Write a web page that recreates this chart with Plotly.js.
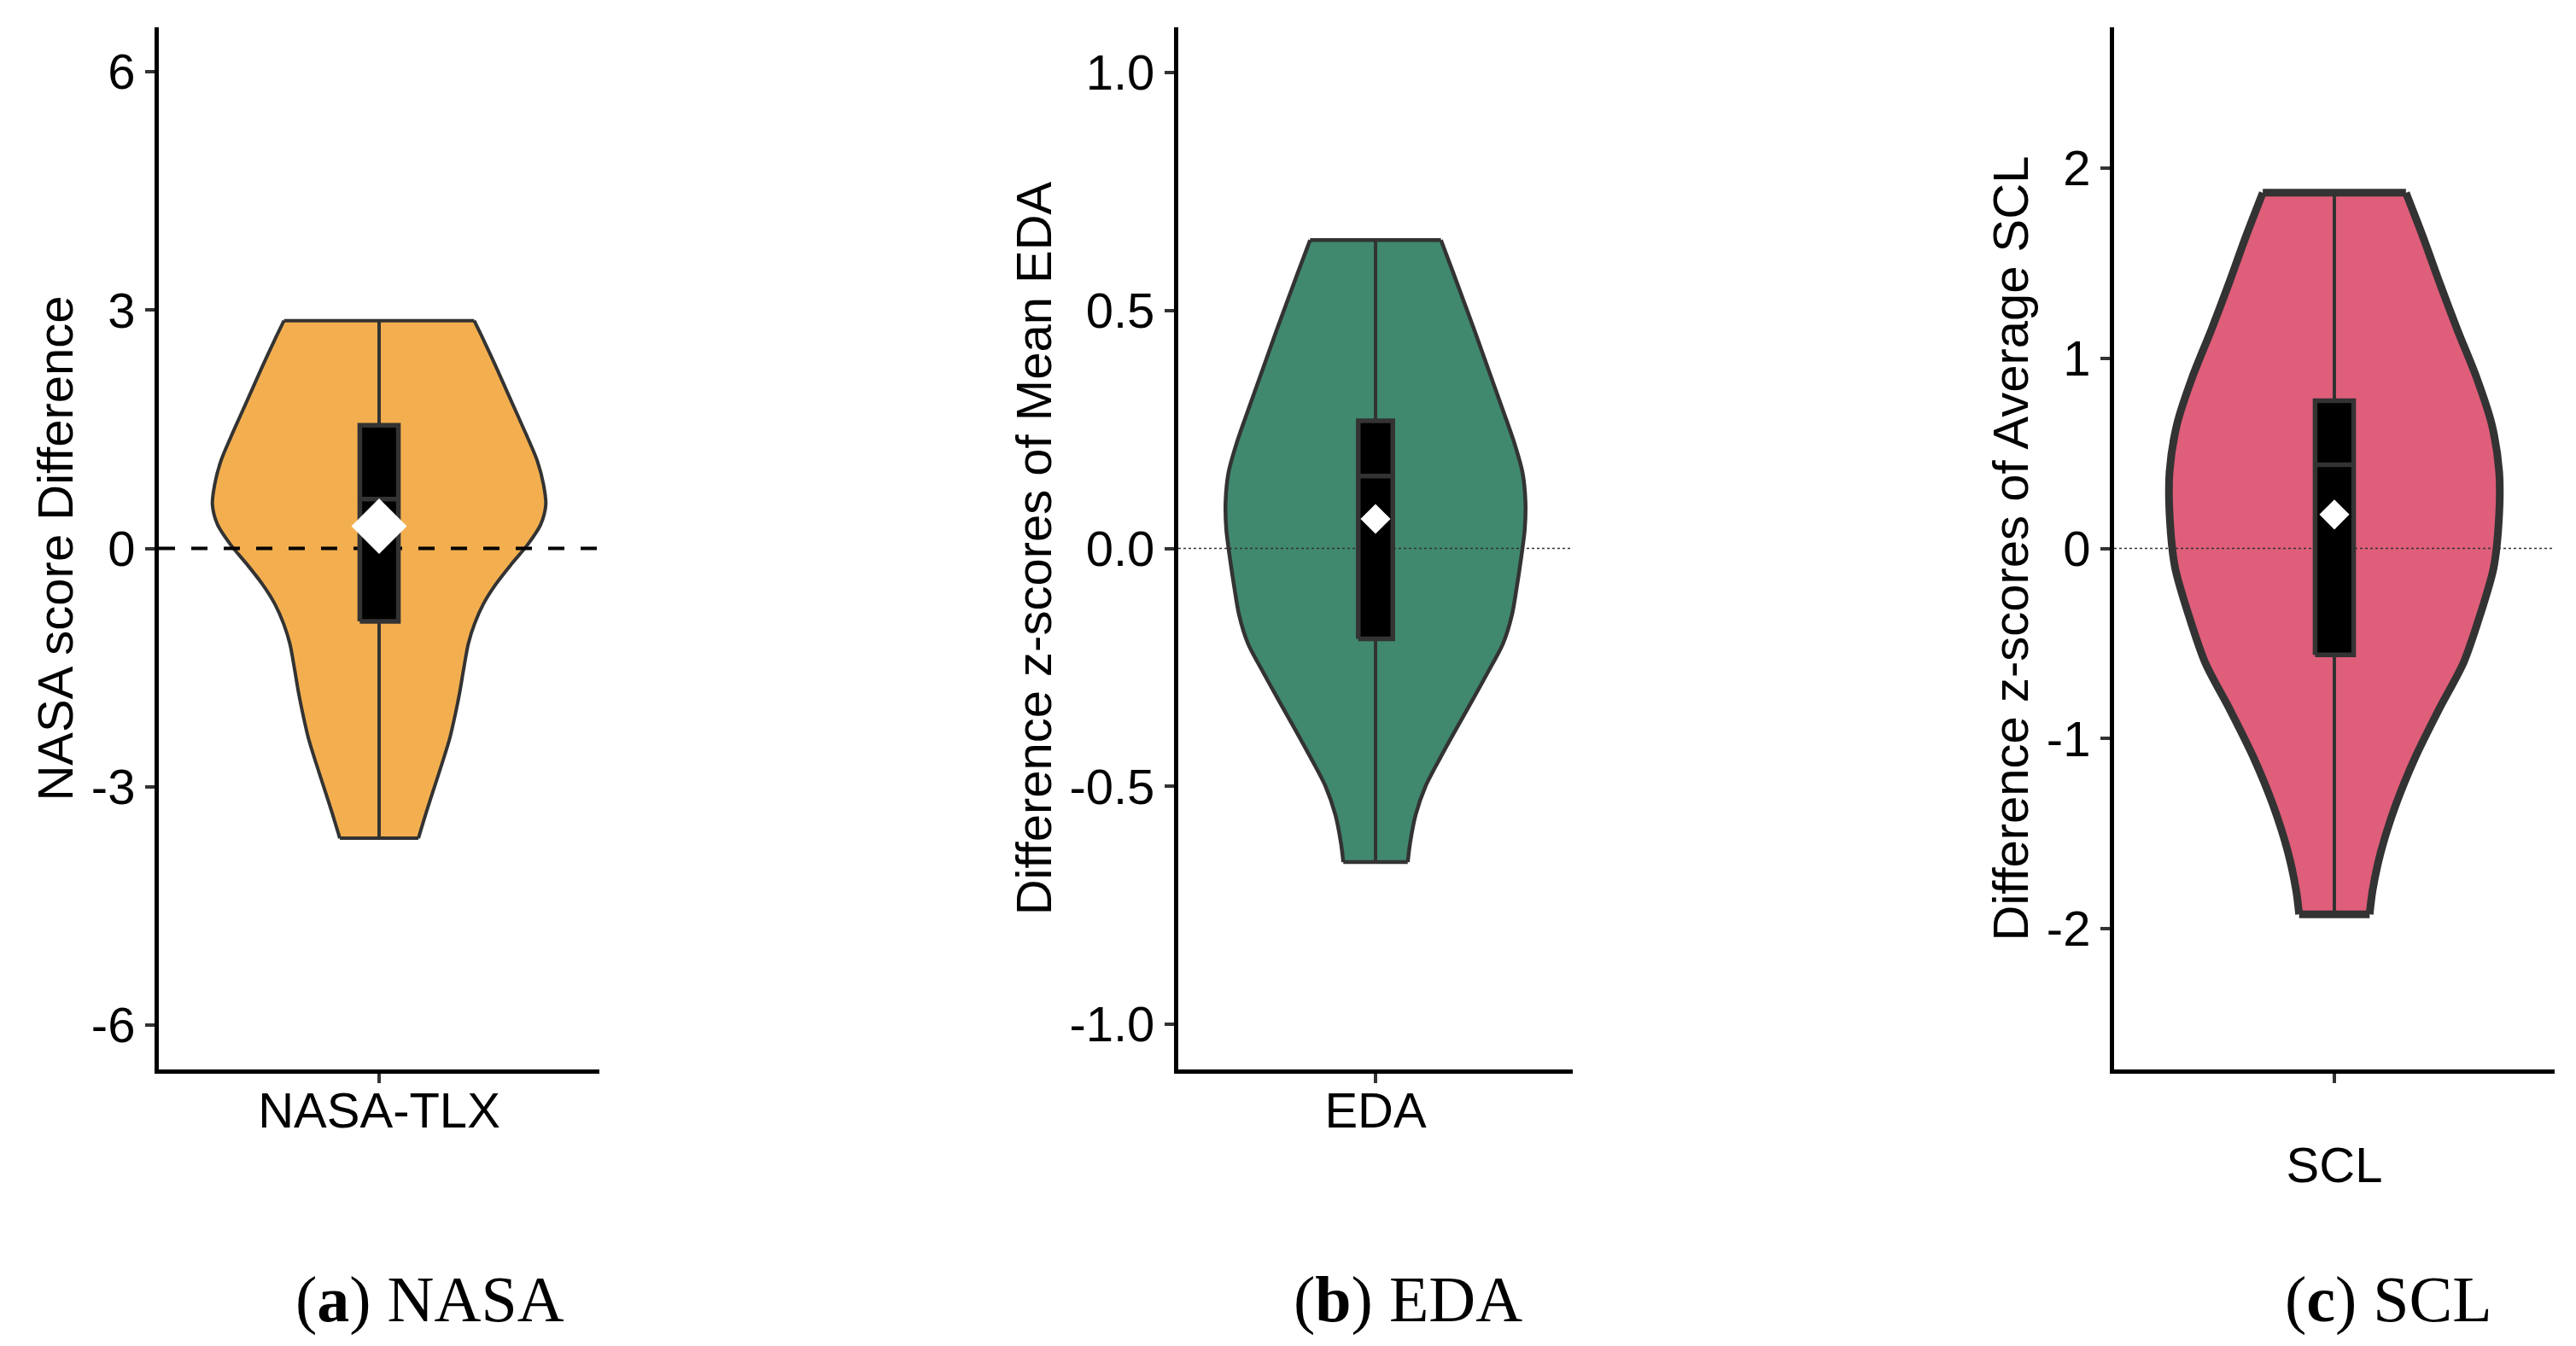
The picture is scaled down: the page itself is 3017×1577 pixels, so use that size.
<!DOCTYPE html>
<html>
<head>
<meta charset="utf-8">
<script src="https://cdn.plot.ly/plotly-3.0.1.min.js"></script>
<style>
  html, body { margin: 0; padding: 0; background: #fff; }
  #chart { width: 3017px; height: 1577px; }
</style>
</head>
<body>
<div id="chart"></div>
<script>
// violin outlines: y value and half width (category units), top to bottom
const nasaY = [2.867, 2.6, 2.3, 2.0, 1.7, 1.4, 1.1, 0.8, 0.55, 0.3, 0.05, -0.2, -0.45, -0.7, -0.95, -1.2, -1.5, -1.8, -2.1, -2.4, -2.7, -3.0, -3.3, -3.649];
const nasaW = [0.259, 0.287, 0.317, 0.346, 0.375, 0.404, 0.431, 0.448, 0.454, 0.44, 0.405, 0.36, 0.318, 0.284, 0.26, 0.243, 0.231, 0.22, 0.207, 0.192, 0.172, 0.151, 0.13, 0.107];

const edaY = [0.648, 0.58, 0.52, 0.46, 0.40, 0.34, 0.28, 0.22, 0.16, 0.10, 0.04, -0.02, -0.08, -0.14, -0.20, -0.26, -0.32, -0.38, -0.44, -0.50, -0.56, -0.62, -0.659];
const edaW = [0.199, 0.236, 0.268, 0.30, 0.331, 0.362, 0.393, 0.423, 0.447, 0.456, 0.454, 0.443, 0.43, 0.415, 0.388, 0.342, 0.294, 0.245, 0.197, 0.152, 0.122, 0.105, 0.098];

const sclY = [1.87, 1.63, 1.40, 1.15, 0.90, 0.65, 0.40, 0.15, -0.10, -0.35, -0.60, -0.85, -1.10, -1.35, -1.60, -1.80, -1.924];
const sclW = [0.195, 0.243, 0.286, 0.335, 0.387, 0.429, 0.449, 0.448, 0.434, 0.397, 0.352, 0.284, 0.220, 0.167, 0.126, 0.104, 0.096];

// box summaries: [lower, q1, median, q3, upper], and mean
const nasaBox = [-3.649, -0.92, 0.62, 1.55, 2.867];
const edaBox = [-0.659, -0.19, 0.152, 0.268, 0.648];
const sclBox = [-1.924, -0.56, 0.44, 0.776, 1.87];
const nasaMean = 0.28;
const edaMean = 0.062;
const sclMean = 0.178;

const categories = ["NASA-TLX", "EDA", "SCL"];
const yTitles = ["NASA score Difference", "Difference z-scores of Mean EDA", "Difference z-scores of Average SCL"];
const captions = ["(<b>a</b>) NASA", "(<b>b</b>) EDA", "(<b>c</b>) SCL"];

const nasaTicks = [-6, -3, 0, 3, 6];
const nasaTickText = ["-6", "-3", "0", "3", "6"];
const edaTicks = [-1, -0.5, 0, 0.5, 1];
const edaTickText = ["-1.0", "-0.5", "0.0", "0.5", "1.0"];
const sclTicks = [-2, -1, 0, 1, 2];
const sclTickText = ["-2", "-1", "0", "1", "2"];

const zeroLine = 0;

const W = 3017, H = 1577;
const fills = ["#F3AF4F", "#40896E", "#DF5E7A"];
const outline = "#333333";
const sans = "Liberation Sans, Arial, sans-serif";
const boxHalf = 0.0525;

const panels = [
  {ys: nasaY, ws: nasaW, box: nasaBox, mean: nasaMean, range: [-6.56, 6.56], ticks: nasaTicks, tickText: nasaTickText,
   px: [186, 702], outlineW: 4, diamond: 50, ref: {color: "black", width: 4, dash: "19px,19px"}, labelPad: -18},
  {ys: edaY, ws: edaW, box: edaBox, mean: edaMean, range: [-1.095, 1.095], ticks: edaTicks, tickText: edaTickText,
   px: [1380, 1842], outlineW: 4.5, diamond: 27, ref: {color: "#333", width: 1.3, dash: "3px,3px"}, labelPad: -18},
  {ys: sclY, ws: sclW, box: sclBox, mean: sclMean, range: [-2.74, 2.74], ticks: sclTicks, tickText: sclTickText,
   px: [2476, 2992], outlineW: 9, diamond: 27, ref: {color: "#333", width: 1.3, dash: "3px,3px"}, labelPad: 46}
];

const yDomain = [1 - 1253 / H, 1 - 32 / H];
const traces = [];
const layout = {
  width: W, height: H, autosize: false,
  margin: {l: 0, r: 0, t: 0, b: 0},
  paper_bgcolor: "white", plot_bgcolor: "white",
  showlegend: false,
  annotations: []
};

panels.forEach((p, i) => {
  const xa = i === 0 ? "x" : "x" + (i + 1);
  const ya = i === 0 ? "y" : "y" + (i + 1);
  const xKey = i === 0 ? "xaxis" : "xaxis" + (i + 1);
  const yKey = i === 0 ? "yaxis" : "yaxis" + (i + 1);
  const n = p.ys.length;
  const right = p.ws.map(w => 1 + w);
  const left = p.ws.map(w => 1 - w);
  const on = {xaxis: xa, yaxis: ya, hoverinfo: "skip", type: "scatter"};

  // violin fill: right side top->bottom, left side bottom->top
  traces.push(Object.assign({}, on, {
    mode: "lines",
    x: right.concat(left.slice().reverse()),
    y: p.ys.concat(p.ys.slice().reverse()),
    fill: "toself", fillcolor: fills[i],
    line: {width: 0, color: fills[i]}
  }));
  // curved sides
  traces.push(Object.assign({}, on, {
    mode: "lines",
    x: right.concat([null], left), y: p.ys.concat([null], p.ys),
    line: {color: outline, width: p.outlineW, shape: "spline", smoothing: 0.8},
    connectgaps: false
  }));
  // flat top and bottom
  traces.push(Object.assign({}, on, {
    mode: "lines",
    x: [left[0], right[0], null, left[n - 1], right[n - 1]],
    y: [p.ys[0], p.ys[0], null, p.ys[n - 1], p.ys[n - 1]],
    line: {color: outline, width: p.outlineW},
    connectgaps: false
  }));

  // reference line at zero
  traces.push(Object.assign({}, on, {
    mode: "lines", x: [0.4, 1.6], y: [zeroLine, zeroLine], line: p.ref
  }));

  // whisker from min to max
  traces.push(Object.assign({}, on, {
    mode: "lines", x: [1, 1], y: [p.box[0], p.box[4]],
    line: {color: outline, width: 4}
  }));
  // box q1..q3
  traces.push(Object.assign({}, on, {
    mode: "lines",
    x: [1 - boxHalf, 1 + boxHalf, 1 + boxHalf, 1 - boxHalf, 1 - boxHalf],
    y: [p.box[1], p.box[1], p.box[3], p.box[3], p.box[1]],
    fill: "toself", fillcolor: "black",
    line: {color: outline, width: 5.5}
  }));
  // median
  traces.push(Object.assign({}, on, {
    mode: "lines", x: [1 - boxHalf, 1 + boxHalf], y: [p.box[2], p.box[2]],
    line: {color: outline, width: 5.5}
  }));

  // mean marker
  traces.push(Object.assign({}, on, {
    mode: "markers", x: [1], y: [p.mean],
    marker: {symbol: "diamond", size: p.diamond, color: "white", line: {width: 0}}
  }));

  layout[xKey] = {
    domain: [p.px[0] / W, p.px[1] / W], anchor: ya,
    range: [0.4, 1.6], tickvals: [1], ticktext: [categories[i]],
    showline: true, linecolor: "black", linewidth: 5, mirror: false,
    ticks: "outside", ticklen: 11, tickwidth: 4, tickcolor: outline,
    ticklabelstandoff: p.labelPad,
    showgrid: false, zeroline: false,
    tickfont: {family: sans, size: 58, color: "black"}
  };
  layout[yKey] = {
    domain: yDomain, anchor: xa,
    range: p.range, tickvals: p.ticks, ticktext: p.tickText,
    showline: true, linecolor: "black", linewidth: 5,
    ticks: "outside", ticklen: 11, tickwidth: 4, tickcolor: outline,
    showgrid: false, zeroline: false,
    tickfont: {family: sans, size: 58, color: "black"},
    title: {text: yTitles[i], font: {family: sans, size: 58, color: "black"}, standoff: 4}
  };

  layout.annotations.push({
    xref: "paper", yref: "paper",
    x: [503, 1649, 2797][i] / W, y: 1 - 1522 / H,
    xanchor: "center", yanchor: "middle", showarrow: false,
    text: captions[i],
    font: {family: "Liberation Serif, Times New Roman, serif", size: 76, color: "black"}
  });
});

Plotly.newPlot("chart", traces, layout, {staticPlot: true, displayModeBar: false});
</script>
</body>
</html>
